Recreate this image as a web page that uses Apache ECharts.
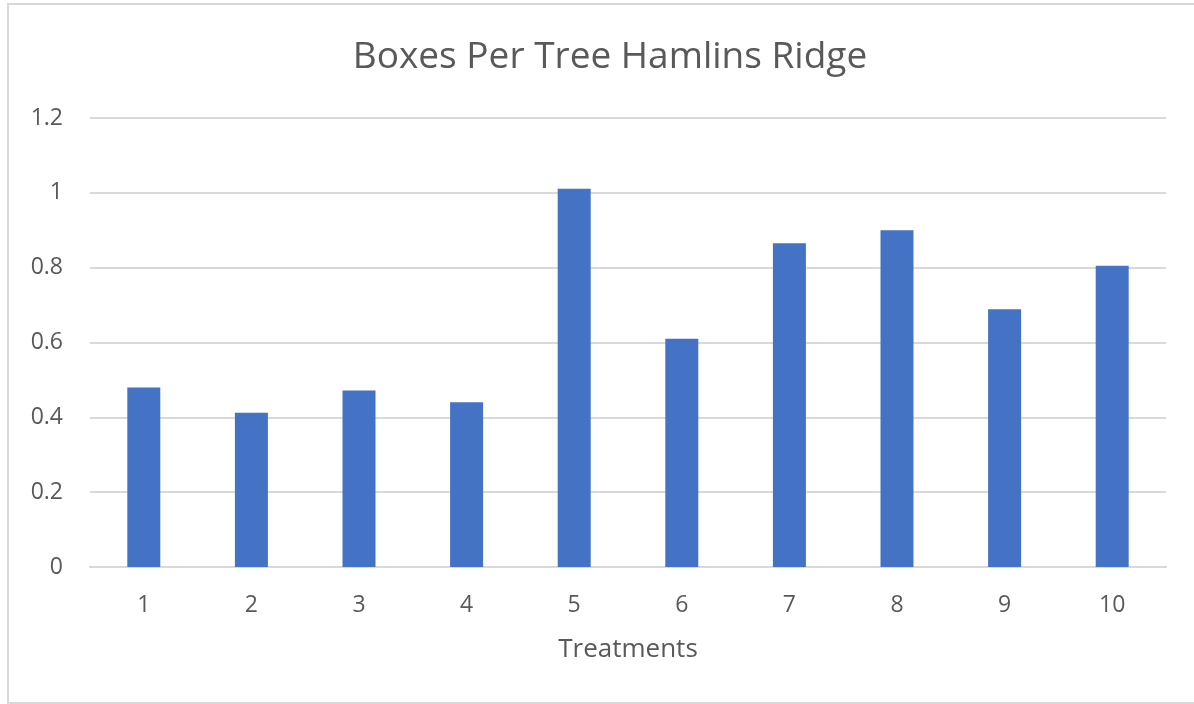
<!DOCTYPE html>
<html>
<head>
<meta charset="utf-8">
<script src="https://cdn.jsdelivr.net/npm/echarts@6/dist/echarts.min.js"></script>
<style>
  html, body { margin: 0; padding: 0; background: #ffffff; overflow: hidden; }
  #frame {
    position: absolute; left: 7px; top: 3px; width: 1187px; height: 701px;
    border: 2px solid #d9d9d9; border-right: none; box-sizing: border-box; background: #ffffff;
  }
  #chart { position: absolute; left: 0; top: 0; width: 1194px; height: 704px; }
</style>
</head>
<body>
<div id="frame"></div>
<div id="chart"></div>
<script>
// Treatment numbers along the x axis
const categories = ['1', '2', '3', '4', '5', '6', '7', '8', '9', '10'];
// Boxes harvested per tree for each treatment
const boxesPerTree = [0.48, 0.412, 0.472, 0.44, 1.011, 0.61, 0.865, 0.90, 0.689, 0.805];
// Value axis tick settings
const yMin = 0;
const yMax = 1.2;
const yStep = 0.2;

const textColor = '#595959';
const fontFamily = '"Open Sans", "Noto Sans", sans-serif';

const chart = echarts.init(document.getElementById('chart'), null, { renderer: 'canvas' });
chart.setOption({
  backgroundColor: 'transparent',
  animation: false,
  title: {
    text: 'Boxes Per Tree Hamlins Ridge',
    left: 605,
    top: 34,
    textAlign: 'center',
    textStyle: { color: textColor, fontSize: 37, fontWeight: 'normal', fontFamily: fontFamily }
  },
  grid: { left: 90, right: 28, top: 118, bottom: 137, containLabel: false },
  xAxis: {
    type: 'category',
    data: categories,
    name: 'Treatments',
    nameLocation: 'middle',
    nameGap: 70,
    nameTextStyle: { color: textColor, fontSize: 26, fontFamily: fontFamily },
    axisLine: { show: true, lineStyle: { color: '#d9d9d9', width: 2 } },
    axisTick: { show: false },
    axisLabel: { color: textColor, fontSize: 23, fontFamily: fontFamily, margin: 27 }
  },
  yAxis: {
    type: 'value',
    min: yMin,
    max: yMax,
    interval: yStep,
    axisLine: { show: false },
    axisTick: { show: false },
    splitLine: { lineStyle: { color: '#d9d9d9', width: 2 } },
    axisLabel: {
      color: textColor, fontSize: 23, fontFamily: fontFamily, margin: 27,
      formatter: function (v) { return String(Math.round(v * 10) / 10); }
    }
  },
  series: [{
    type: 'bar',
    data: boxesPerTree,
    barWidth: 33,
    itemStyle: { color: '#4472C4' }
  }]
});
</script>
</body>
</html>
